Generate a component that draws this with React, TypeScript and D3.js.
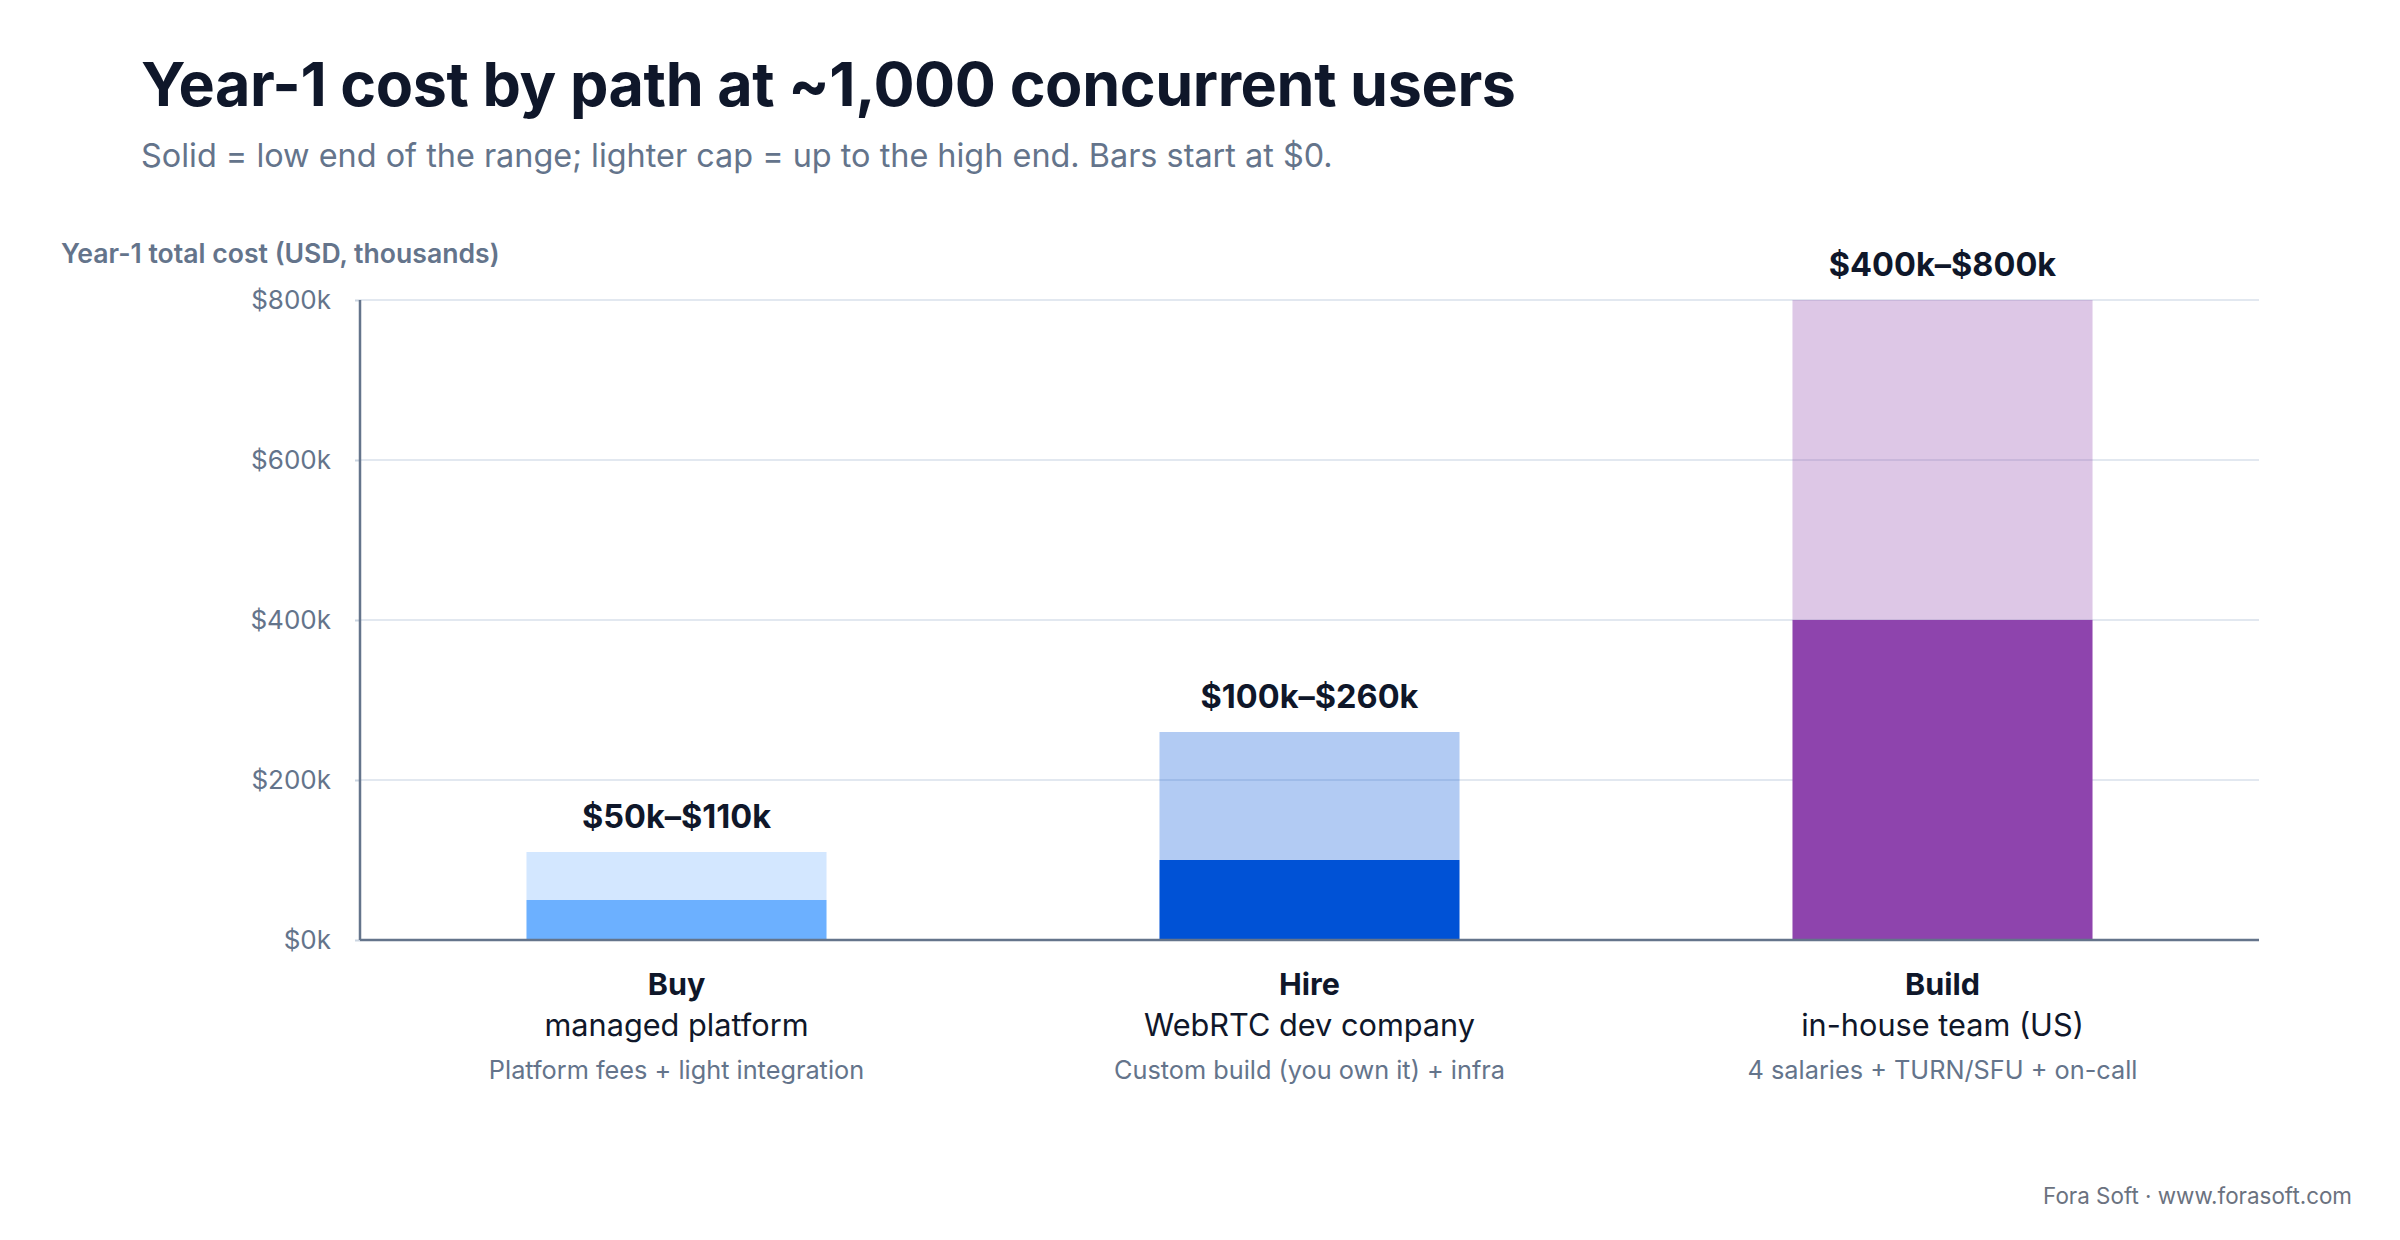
import React, { useEffect, useRef } from 'react';
import * as d3 from 'd3';

// Year-1 cost ranges, USD thousands
const categories = ['Buy', 'Hire', 'Build'];
const categorySubtitles = ['managed platform', 'WebRTC dev company', 'in-house team (US)'];
const categoryNotes = [
  'Platform fees + light integration',
  'Custom build (you own it) + infra',
  '4 salaries + TURN/SFU + on-call',
];
const lowValues = [50, 100, 400];
const highValues = [110, 260, 800];
const rangeLabels = ['$50k–$110k', '$100k–$260k', '$400k–$800k'];
const yTicks = [0, 200, 400, 600, 800];
const barColors = ['#6cb0ff', '#0052d6', '#8e44ad'];

const W = 2400;
const H = 1240;
const MARGIN = { top: 300, right: 141, bottom: 300, left: 360 };
const FONT = 'Inter, "DejaVu Sans", sans-serif';

const App: React.FC = () => {
  const axisRef = useRef<SVGGElement>(null);
  const innerW = W - MARGIN.left - MARGIN.right;
  const innerH = H - MARGIN.top - MARGIN.bottom;

  const x = d3.scaleBand<string>().domain(categories).range([0, innerW]).padding(0);
  const y = d3.scaleLinear().domain([0, 800]).range([innerH, 0]);
  const barW = x.bandwidth() * 0.474;

  useEffect(() => {
    if (!axisRef.current) return;
    const g = d3.select(axisRef.current);
    g.selectAll('*').remove();
    const axis = d3.axisLeft(y)
      .tickValues(yTicks)
      .tickSize(5)
      .tickPadding(24)
      .tickFormat(d => `$${d}k`);
    g.call(axis);
    g.select('.domain').remove();
    g.selectAll('.tick line').attr('stroke', '#cbd5e1').attr('stroke-width', 2);
    g.selectAll('.tick text')
      .attr('fill', '#64748b')
      .style('font-family', FONT)
      .style('font-size', '26px');
  }, []);

  return (
    <svg
      width={W}
      height={H}
      style={{ position: 'absolute', left: 0, top: 0, background: '#ffffff' }}
    >
      <rect width={W} height={H} fill="#ffffff" />
      <text x={141} y={106} fill="#0f172a" fontFamily={FONT} fontSize={61} fontWeight={700} letterSpacing={-0.4}>
        Year-1 cost by path at ~1,000 concurrent users
      </text>
      <text x={141} y={167} fill="#64748b" fontFamily={FONT} fontSize={32.4}>
        Solid = low end of the range; lighter cap = up to the high end. Bars start at $0.
      </text>
      <text x={61} y={263} fill="#64748b" fontFamily={FONT} fontSize={26.6} fontWeight={600}>
        Year-1 total cost (USD, thousands)
      </text>

      <g transform={`translate(${MARGIN.left},${MARGIN.top})`}>
        {yTicks.map(t => (
          <line key={t} x1={0} x2={innerW} y1={y(t)} y2={y(t)} stroke="#e2e8f0" strokeWidth={2} />
        ))}
        <g ref={axisRef} />

        {categories.map((c, i) => {
          const cx = (x(c) ?? 0) + x.bandwidth() / 2;
          return (
            <g key={c}>
              <rect x={cx - barW / 2} y={y(lowValues[i])} width={barW} height={y(0) - y(lowValues[i])} fill={barColors[i]} />
              <rect
                x={cx - barW / 2}
                y={y(highValues[i])}
                width={barW}
                height={y(lowValues[i]) - y(highValues[i])}
                fill={barColors[i]}
                fillOpacity={0.3}
              />
              <text x={cx} y={y(highValues[i]) - 24} textAnchor="middle" fill="#0f172a" fontFamily={FONT} fontSize={32.5} fontWeight={700}>
                {rangeLabels[i]}
              </text>
              <text x={cx} y={innerH + 55} textAnchor="middle" fill="#0f172a" fontFamily={FONT} fontSize={30.5} fontWeight={700}>
                {c}
              </text>
              <text x={cx} y={innerH + 96} textAnchor="middle" fill="#0f172a" fontFamily={FONT} fontSize={30.7}>
                {categorySubtitles[i]}
              </text>
              <text x={cx} y={innerH + 139} textAnchor="middle" fill="#64748b" fontFamily={FONT} fontSize={25.3}>
                {categoryNotes[i]}
              </text>
            </g>
          );
        })}

        <line x1={0} x2={0} y1={0} y2={innerH} stroke="#64748b" strokeWidth={2.5} />
        <line x1={0} x2={innerW} y1={innerH} y2={innerH} stroke="#64748b" strokeWidth={2.5} />
      </g>

      <text x={2352} y={1204} textAnchor="end" fill="#6b7280" fontFamily={FONT} fontSize={22.4}>
        Fora Soft · www.forasoft.com
      </text>
    </svg>
  );
};

export default App;
